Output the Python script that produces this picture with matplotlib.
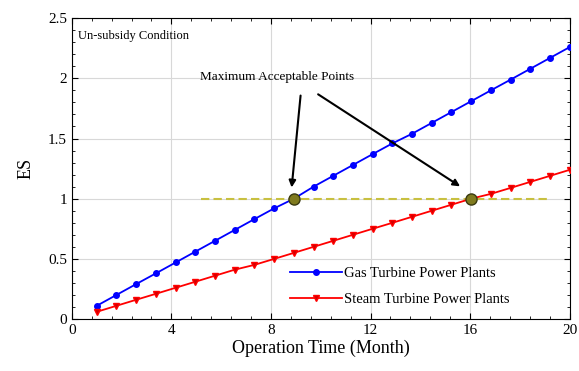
import matplotlib
matplotlib.use("Agg")
import matplotlib.pyplot as plt
from matplotlib.ticker import MultipleLocator, FormatStrFormatter

plt.rcParams['font.family'] = ['Liberation Serif', 'DejaVu Serif']

# operation time (month)
months = [1.00, 1.79, 2.58, 3.38, 4.17, 4.96, 5.75, 6.54, 7.33, 8.13, 8.92,
          9.71, 10.50, 11.29, 12.08, 12.88, 13.67, 14.46, 15.25, 16.04, 16.83,
          17.63, 18.42, 19.21, 20.00]
# ES values
gas_es = [0.11, 0.20, 0.29, 0.38, 0.47, 0.56, 0.65, 0.74, 0.83, 0.92, 1.00,
          1.10, 1.19, 1.28, 1.37, 1.46, 1.54, 1.63, 1.72, 1.81, 1.90, 1.99,
          2.08, 2.17, 2.26]
steam_es = [0.06, 0.11, 0.16, 0.21, 0.26, 0.31, 0.36, 0.41, 0.45, 0.50, 0.55,
            0.60, 0.65, 0.70, 0.75, 0.80, 0.85, 0.90, 0.95, 1.00, 1.04, 1.09,
            1.14, 1.19, 1.24]
# maximum acceptable points
max_x = [8.92, 16.04]
max_y = [1.0, 1.0]
limit_x = [5.2, 19.2]
limit_y = [1.0, 1.0]

fig = plt.figure(figsize=(5.79, 3.71), dpi=100)
ax = fig.add_axes([0.124, 0.140, 0.86, 0.811])

ax.plot(limit_x, limit_y, linestyle='--', color='#c8c040', lw=1.5, dashes=(4, 2), zorder=2)
ax.plot(months, gas_es, color='blue', marker='o', markersize=4,
        lw=1.3, label='Gas Turbine Power Plants', zorder=3)
ax.plot(months, steam_es, color='red', marker='v', markersize=4,
        markerfacecolor='#d00000', lw=1.3, label='Steam Turbine Power Plants', zorder=3)
ax.plot(max_x, max_y, linestyle='none', marker='o', markersize=8,
        markerfacecolor='#7f7a1e', markeredgecolor='#3a3a10', zorder=4)

# arrows to the max points
ax.annotate('', xy=(max_x[0] - 0.1, 1.07), xytext=(9.2, 1.88),
            arrowprops=dict(arrowstyle='-|>', color='black', lw=1.5, mutation_scale=10))
ax.annotate('', xy=(max_x[1] - 0.35, 1.09), xytext=(9.8, 1.88),
            arrowprops=dict(arrowstyle='-|>', color='black', lw=1.5, mutation_scale=10))
ax.text(8.25, 2.01, 'Maximum Acceptable Points', ha='center', va='center', fontsize=9.5)
ax.text(0.25, 2.35, 'Un-subsidy Condition', ha='left', va='center', fontsize=9)

ax.set_xlim(0, 20)
ax.set_ylim(0, 2.5)
ax.xaxis.set_major_locator(MultipleLocator(4))
ax.xaxis.set_minor_locator(MultipleLocator(0.8))
ax.yaxis.set_major_locator(MultipleLocator(0.5))
ax.yaxis.set_minor_locator(MultipleLocator(0.1))
ax.yaxis.set_major_formatter(FormatStrFormatter('%g'))
ax.tick_params(which='both', direction='in', top=True, right=True, labelsize=11)
ax.tick_params(which='major', length=4)
ax.tick_params(which='minor', length=2)
ax.grid(True, which='major', color='#d8d8d8', lw=0.8)
ax.set_axisbelow(True)

ax.set_xlabel('Operation Time (Month)', fontsize=13, labelpad=2)
ax.set_ylabel('ES', fontsize=13, labelpad=10)

ax.legend(loc='lower right', bbox_to_anchor=(0.905, 0.0), frameon=False,
          fontsize=10.5, handlelength=3.6, handletextpad=0.1, labelspacing=0.85)

fig.savefig('out.png', dpi=100)
